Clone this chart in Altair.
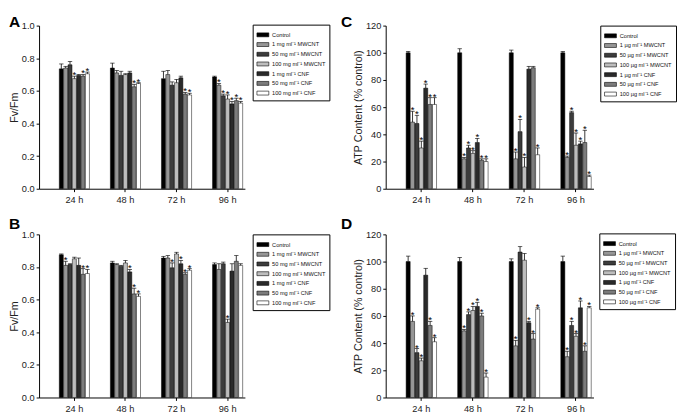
import altair as alt
import pandas as pd

times = ["24 h", "48 h", "72 h", "96 h"]
labels_mg = ["Control", "1 mg ml⁻¹ MWCNT", "50 mg ml⁻¹ MWCNT", "100 mg ml⁻¹ MWCNT",
             "1 mg ml⁻¹ CNF", "50 mg ml⁻¹ CNF", "100 mg ml⁻¹ CNF"]
labels_ug = ["Control", "1 µg ml⁻¹ MWCNT", "50 µg ml⁻¹ MWCNT", "100 µg ml⁻¹ MWCNT",
             "1 µg ml⁻¹ CNF", "50 µg ml⁻¹ CNF", "100 µg ml⁻¹ CNF"]
colors = ["#000000", "#969696", "#3c3c3c", "#bdbdbd", "#2a2a2a", "#7c7c7c", "#ffffff"]

# Panel A (Fv/Fm): rows = series, columns = 24/48/72/96 h
A_mean = [[0.735, 0.74, 0.675, 0.685], [0.74, 0.71, 0.70, 0.635], [0.76, 0.695, 0.635, 0.57],
          [0.675, 0.70, 0.65, 0.55], [0.695, 0.71, 0.68, 0.52], [0.69, 0.625, 0.58, 0.54],
          [0.705, 0.645, 0.575, 0.525]]
A_top = [[0.765, 0.77, 0.72, 0.69], [0.75, 0.725, 0.725, 0.645], [0.78, 0.72, 0.655, 0.58],
         [0.69, 0.705, 0.67, 0.575], [0.70, 0.72, 0.69, 0.535], [0.70, 0.64, 0.59, 0.555],
         [0.715, 0.65, 0.585, 0.535]]
A_star = [[0, 0, 0, 0], [0, 0, 0, 1], [0, 0, 0, 1], [1, 0, 0, 1], [0, 0, 0, 1], [1, 1, 1, 1], [1, 1, 1, 1]]

# Panel B (Fv/Fm)
B_mean = [[0.875, 0.825, 0.855, 0.815], [0.81, 0.815, 0.855, 0.785], [0.815, 0.805, 0.795, 0.82],
          [0.85, 0.825, 0.88, 0.46], [0.81, 0.77, 0.82, 0.775], [0.755, 0.635, 0.755, 0.835],
          [0.76, 0.62, 0.78, 0.81]]
B_top = [[0.88, 0.835, 0.865, 0.825], [0.835, 0.82, 0.87, 0.82], [0.82, 0.81, 0.825, 0.83],
         [0.86, 0.84, 0.89, 0.48], [0.855, 0.785, 0.84, 0.82], [0.79, 0.67, 0.765, 0.87],
         [0.785, 0.635, 0.79, 0.82]]
B_star = [[0, 0, 0, 0], [1, 0, 0, 0], [0, 0, 1, 0], [0, 0, 0, 1], [0, 1, 1, 0], [1, 1, 1, 0], [1, 1, 1, 0]]

# Panel C (ATP content, % control)
C_mean = [[100, 100, 100, 100], [49, 22, 22, 23], [48, 30, 42, 56], [30, 26, 16, 32],
          [74, 34, 88, 33], [62, 21, 89, 34], [62, 20, 25, 9]]
C_top = [[101, 103, 102, 101], [57, 23, 27, 24], [54, 32, 51, 57], [35, 28, 23, 41],
         [77, 37, 90, 35], [67, 22, 90, 43], [67, 22, 30, 10]]
C_star = [[0, 0, 0, 0], [1, 1, 1, 1], [1, 1, 1, 1], [1, 1, 1, 1], [1, 1, 0, 1], [1, 1, 0, 1], [1, 1, 1, 1]]

# Panel D (ATP content, % control)
D_mean = [[100, 100, 100, 100], [56, 49, 38, 30], [33, 61, 107, 53], [27, 64, 101, 45],
          [90, 67, 55, 66], [53, 60, 43, 34], [41, 15, 65, 66]]
D_top = [[104, 103, 102, 104], [60, 50, 42, 34], [36, 63, 111, 56], [29, 67, 106, 47],
         [95, 70, 56, 71], [56, 62, 47, 38], [44, 18, 66, 67]]
D_star = [[0, 0, 0, 0], [1, 1, 1, 1], [1, 1, 0, 1], [1, 1, 0, 1], [0, 1, 1, 1], [1, 1, 1, 1], [1, 1, 1, 1]]

FONT = "Liberation Sans"
SYMBOL = "M-1,-0.33L1,-0.33L1,0.33L-1,0.33Z"


def make_df(means, tops, stars, labels):
    rows = []
    for si, lab in enumerate(labels):
        for ti, t in enumerate(times):
            rows.append({"time": t, "series": lab, "value": means[si][ti],
                         "top": tops[si][ti], "star": stars[si][ti]})
    return pd.DataFrame(rows)


def panel(means, tops, stars, labels, letter, ymax, ystep, yfmt, ytitle,
          letter_x, letter_y, legend_x, legend_y, width, height):
    df = make_df(means, tops, stars, labels)
    yvals = [round(i * ystep, 3) for i in range(int(round(ymax / ystep)) + 1)]
    x = alt.X("time:N", sort=times,
              scale=alt.Scale(paddingInner=0.41, paddingOuter=0.22, align=0.9),
              axis=alt.Axis(title=None, labelAngle=0, tickSize=3, labelPadding=3))
    xo = alt.XOffset("series:N", sort=labels, scale=alt.Scale(domain=labels, paddingInner=0.08))
    yscale = alt.Scale(domain=[0, ymax], nice=False, zero=True)
    yaxis = alt.Axis(values=yvals, format=yfmt, title=ytitle, tickSize=3,
                     labelPadding=2, titlePadding=2)
    color = alt.Color("series:N", sort=labels,
                      scale=alt.Scale(domain=labels, range=colors),
                      legend=alt.Legend(orient="none", legendX=legend_x, legendY=legend_y,
                                        title=None, symbolType=SYMBOL, symbolSize=150,
                                        symbolStrokeColor="black", symbolStrokeWidth=0.6,
                                        labelFontSize=5.8, labelFont=FONT, labelColor="#111",
                                        labelOffset=3, rowPadding=-2, padding=4,
                                        strokeColor="black", fillColor="white",
                                        cornerRadius=0, labelLimit=200))
    base = alt.Chart(df)
    bars = base.mark_bar(stroke="black", strokeWidth=0.5).encode(
        x=x, xOffset=xo, y=alt.Y("value:Q", scale=yscale, axis=yaxis), color=color)
    err = base.mark_rule(color="black", strokeWidth=0.8).encode(
        x=x, xOffset=xo, y=alt.Y("value:Q", scale=yscale, axis=yaxis), y2="top:Q")
    cap = base.mark_tick(color="black", thickness=0.9, size=4.5).encode(
        x=x, xOffset=xo, y=alt.Y("top:Q", scale=yscale, axis=yaxis))
    star = base.transform_filter("datum.star == 1").mark_text(
        text="*", fontSize=10, baseline="alphabetic", dy=2, color="black", font=FONT).encode(
        x=x, xOffset=xo, y=alt.Y("top:Q", scale=yscale, axis=yaxis))
    let = alt.Chart(pd.DataFrame({"t": [letter]})).mark_text(
        fontSize=16, fontWeight="bold", align="left", baseline="top", font=FONT,
        color="black").encode(text="t:N", x=alt.value(letter_x), y=alt.value(letter_y))
    return alt.layer(bars, err, cap, star, let).properties(width=width, height=height)


pA = panel(A_mean, A_top, A_star, labels_mg, "A", 1.0, 0.2, ".1f", "Fv/Fm",
           -31, -12, 220, -1, 212, 168)
pB = panel(B_mean, B_top, B_star, labels_mg, "B", 1.0, 0.2, ".1f", "Fv/Fm",
           -31, -19, 220, 0, 212, 168)
pC = panel(C_mean, C_top, C_star, labels_ug, "C", 120, 20, "d", "ATP Content (% control)",
           -46, -12, 221, 0, 214, 168)
pD = panel(D_mean, D_top, D_star, labels_ug, "D", 120, 20, "d", "ATP Content (% control)",
           -46, -19, 220, -1, 214, 168)

res = dict(x="independent", y="independent", color="independent", xOffset="independent")
row1 = alt.hconcat(pA, pC, spacing=11).resolve_scale(**res).resolve_legend(color="independent")
row2 = alt.hconcat(pB, pD, spacing=11).resolve_scale(**res).resolve_legend(color="independent")

chart = alt.vconcat(row1, row2, spacing=12).resolve_scale(**res).resolve_legend(
    color="independent").properties(padding=0).configure(font=FONT).configure_view(
    stroke=None).configure_axis(
    grid=False, domainColor="black", tickColor="black", labelColor="#222",
    titleColor="#222", labelFontSize=9.5, titleFontSize=11, titleFontWeight="normal",
    labelFont=FONT, titleFont=FONT, domainWidth=1, tickWidth=1)

chart.save("out.html", embed_options={"renderer": "svg", "actions": False})
